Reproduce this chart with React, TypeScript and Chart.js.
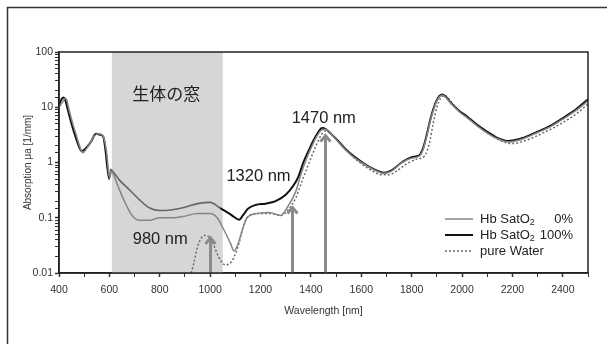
import React, { useEffect, useRef } from 'react';
import { Chart, registerables } from 'chart.js';
Chart.register(...registerables);

// ---------- data ----------
const hb100Wl = [400, 410, 418, 425, 435, 445, 460, 475, 490, 500, 515, 530, 542, 550, 560, 570, 577, 585, 592, 600, 605, 615, 640, 680, 720, 760, 800, 850, 900, 950, 1000, 1040, 1075, 1100, 1115, 1130, 1150, 1180, 1220, 1260, 1300, 1330, 1350, 1370, 1390, 1410, 1430, 1445, 1460, 1480, 1510, 1540, 1580, 1620, 1660, 1690, 1720, 1760, 1800, 1830, 1845, 1860, 1872, 1885, 1898, 1910, 1922, 1935, 1960, 1990, 2020, 2060, 2100, 2140, 2185, 2220, 2260, 2300, 2350, 2410, 2450, 2500];
const hb100Val = [11, 14, 15, 13.5, 9, 6, 3.5, 2.2, 1.6, 1.7, 2.0, 2.5, 3.2, 3.3, 3.2, 3.1, 2.8, 1.6, 0.8, 0.5, 0.75, 0.68, 0.48, 0.32, 0.21, 0.15, 0.135, 0.14, 0.155, 0.18, 0.19, 0.15, 0.12, 0.1, 0.092, 0.11, 0.145, 0.17, 0.18, 0.2, 0.26, 0.38, 0.55, 1.0, 1.6, 2.5, 3.6, 4.2, 4.0, 3.3, 2.4, 1.7, 1.2, 0.9, 0.72, 0.65, 0.72, 1.0, 1.25, 1.35, 1.8, 3.2, 5.5, 9, 13, 16, 17, 15.5, 11.5, 8.5, 6.8, 4.8, 3.6, 2.8, 2.45, 2.6, 3.0, 3.6, 4.6, 6.8, 9, 14];

const hb0Wl = [400, 412, 425, 432, 440, 455, 470, 485, 495, 510, 525, 540, 555, 570, 580, 590, 598, 603, 608, 620, 640, 667, 690, 720, 760, 800, 850, 900, 950, 1000, 1028, 1055, 1080, 1095, 1110, 1130, 1147, 1190, 1235, 1280, 1305, 1340, 1360, 1380, 1400, 1420, 1440, 1455, 1470, 1500, 1540, 1580, 1620, 1660, 1690, 1720, 1760, 1800, 1830, 1845, 1860, 1872, 1885, 1898, 1910, 1922, 1935, 1960, 1990, 2020, 2060, 2100, 2140, 2185, 2220, 2260, 2300, 2350, 2410, 2450, 2500];
const hb0Val = [10, 12, 14.5, 13, 9, 5, 3, 1.8, 1.5, 1.8, 2.3, 3.0, 3.3, 3.2, 2.6, 1.4, 0.6, 0.55, 0.7, 0.55, 0.32, 0.17, 0.11, 0.09, 0.09, 0.1, 0.1, 0.107, 0.12, 0.12, 0.1, 0.06, 0.035, 0.025, 0.033, 0.065, 0.1, 0.12, 0.125, 0.11, 0.15, 0.3, 0.6, 1.1, 1.8, 2.8, 3.8, 4.0, 3.7, 2.6, 1.65, 1.15, 0.88, 0.7, 0.64, 0.7, 0.98, 1.2, 1.3, 1.7, 3.0, 5.2, 8.5, 12.5, 15.5, 16.5, 15.2, 11.2, 8.2, 6.5, 4.6, 3.4, 2.7, 2.35, 2.5, 2.9, 3.5, 4.4, 6.5, 8.6, 13];

const waterWl = [925, 935, 950, 965, 980, 995, 1010, 1035, 1060, 1085, 1100, 1115, 1130, 1145, 1170, 1200, 1240, 1280, 1310, 1340, 1360, 1380, 1400, 1420, 1440, 1455, 1470, 1490, 1520, 1560, 1600, 1640, 1680, 1710, 1740, 1780, 1820, 1850, 1870, 1885, 1900, 1915, 1930, 1945, 1970, 2000, 2040, 2080, 2120, 2160, 2200, 2240, 2280, 2320, 2370, 2420, 2460, 2500];
const waterVal = [0.01, 0.015, 0.03, 0.043, 0.048, 0.045, 0.035, 0.019, 0.014, 0.016, 0.022, 0.035, 0.065, 0.1, 0.115, 0.12, 0.12, 0.11, 0.14, 0.23, 0.4, 0.7, 1.2, 2.0, 3.1, 3.7, 3.6, 3.0, 2.1, 1.35, 0.95, 0.72, 0.6, 0.6, 0.7, 0.95, 1.15, 1.3, 2.2, 5, 10, 14.5, 16.5, 14.5, 10.5, 7.8, 5.6, 4.0, 3.0, 2.4, 2.2, 2.4, 2.8, 3.4, 4.4, 6, 8, 11.5];

const seriesLabels = ['Hb SatO|2|0%', 'Hb SatO|2|100%', 'pure Water'];
const xTickLabels = [400, 600, 800, 1000, 1200, 1400, 1600, 1800, 2000, 2200, 2400];
const yTickLabels = ['0.01', '0.1', '1', '10', '100'];

// annotations (data coordinates)
const windowRange = [610, 1050];
const windowLabel = { text: '生体の窓', nm: 826, val: 18 };
const peakLabels = [
  { text: '980 nm', nm: 802, val: 0.041 },
  { text: '1320 nm', nm: 1192, val: 0.55 },
  { text: '1470 nm', nm: 1451, val: 6.4 },
];
const arrowNm = [1000, 1325, 1455];
const arrowTop = [0.045, 0.16, 3.2];

const FONT = '"Liberation Sans", Arial, Helvetica, sans-serif';

const pts = (wl: number[], v: number[]) => wl.map((x, i) => ({ x, y: v[i] }));

const annotPlugin = {
  id: 'annot',
  beforeDatasetsDraw(chart: any) {
    const { ctx, chartArea: a, scales } = chart;
    const x = scales.x;
    ctx.save();
    ctx.fillStyle = '#d6d6d6';
    const x0 = x.getPixelForValue(windowRange[0]);
    const x1 = x.getPixelForValue(windowRange[1]);
    ctx.fillRect(x0, a.top, x1 - x0, a.bottom - a.top);
    ctx.restore();
  },
  afterDatasetsDraw(chart: any) {
    const { ctx, chartArea: a, scales } = chart;
    const x = scales.x, y = scales.y;
    ctx.save();
    // arrows
    ctx.strokeStyle = '#8a8a8a';
    ctx.lineWidth = 3;
    ctx.lineCap = 'butt';
    ctx.lineJoin = 'miter';
    arrowNm.forEach((nm, i) => {
      const px = Math.round(x.getPixelForValue(nm)) + 0.5;
      const top = y.getPixelForValue(arrowTop[i]);
      ctx.beginPath();
      ctx.moveTo(px, a.bottom);
      ctx.lineTo(px, top + 2);
      ctx.stroke();
      ctx.beginPath();
      ctx.moveTo(px - 5, top + 7);
      ctx.lineTo(px, top + 1);
      ctx.lineTo(px + 5, top + 7);
      ctx.stroke();
    });
    // labels
    ctx.fillStyle = '#222';
    ctx.textAlign = 'center';
    ctx.textBaseline = 'middle';
    ctx.font = `17px "Noto Sans CJK JP", sans-serif`;
    ctx.fillText(windowLabel.text, x.getPixelForValue(windowLabel.nm), y.getPixelForValue(windowLabel.val));
    ctx.font = `16.5px ${FONT}`;
    peakLabels.forEach((l) => {
      ctx.fillText(l.text, x.getPixelForValue(l.nm), y.getPixelForValue(l.val));
    });
    // frame
    ctx.strokeStyle = '#222';
    ctx.lineWidth = 1.5;
    ctx.strokeRect(a.left, a.top, a.right - a.left, a.bottom - a.top);
    // legend
    const ds = chart.data.datasets;
    const lx0 = a.right - 143, lx1 = a.right - 115, tx = a.right - 108, rx = a.right - 15;
    const rows = [a.bottom - 54, a.bottom - 38, a.bottom - 22];
    ctx.textAlign = 'left';
    ds.forEach((d: any, i: number) => {
      const ry = rows[i];
      ctx.strokeStyle = d.borderColor;
      ctx.lineWidth = d.borderWidth;
      ctx.setLineDash(d.borderDash || []);
      ctx.beginPath();
      ctx.moveTo(lx0, ry);
      ctx.lineTo(lx1, ry);
      ctx.stroke();
      ctx.setLineDash([]);
      ctx.fillStyle = '#222';
      const parts = String(seriesLabels[i]).split('|');
      ctx.font = `13px ${FONT}`;
      ctx.textAlign = 'left';
      ctx.fillText(parts[0], tx, ry);
      if (parts.length > 1) {
        const w = ctx.measureText(parts[0]).width;
        ctx.font = `9px ${FONT}`;
        ctx.fillText(parts[1], tx + w, ry + 4);
        ctx.font = `13px ${FONT}`;
        ctx.textAlign = 'right';
        ctx.fillText(parts[2], rx, ry);
      }
    });
    ctx.restore();
  },
  afterDraw(chart: any) {
    const { ctx, width, height } = chart;
    ctx.save();
    ctx.strokeStyle = '#333';
    ctx.lineWidth = 1.5;
    ctx.beginPath();
    ctx.moveTo(7.5, height);
    ctx.lineTo(7.5, 7.5);
    ctx.lineTo(width, 7.5);
    ctx.stroke();
    ctx.restore();
  },
};

const isPow10 = (v: number) => {
  const l = Math.log10(v);
  return Math.abs(l - Math.round(l)) < 1e-9;
};

export default function App() {
  const ref = useRef<HTMLCanvasElement>(null);
  useEffect(() => {
    if (!ref.current) return;
    const chart = new Chart(ref.current, {
      type: 'line',
      data: {
        datasets: [
          {
            label: 'Hb SatO2 0%',
            data: pts(hb0Wl, hb0Val),
            borderColor: '#858585',
            borderWidth: 1.5,
            cubicInterpolationMode: 'monotone',
          },
          {
            label: 'Hb SatO2 100%',
            data: pts(hb100Wl, hb100Val),
            borderColor: '#111',
            borderWidth: 2,
            cubicInterpolationMode: 'monotone',
            segment: {
              borderColor: (c: any) => (c.p0.parsed.x >= windowRange[0] - 10 && c.p1.parsed.x <= windowRange[1] ? '#666' : undefined),
              borderWidth: (c: any) => (c.p0.parsed.x >= windowRange[0] - 10 && c.p1.parsed.x <= windowRange[1] ? 1.6 : undefined),
            },
          },
          {
            label: 'pure Water',
            data: pts(waterWl, waterVal),
            borderColor: '#6a6a6a',
            borderWidth: 1.5,
            borderDash: [2, 2],
            cubicInterpolationMode: 'monotone',
          },
        ] as any,
      },
      options: {
        animation: false,
        responsive: false,
        maintainAspectRatio: false,
        parsing: true,
        layout: { padding: { left: 0, right: 19, top: 52, bottom: 0 } },
        elements: { point: { radius: 0 } },
        plugins: { legend: { display: false }, tooltip: { enabled: false } },
        scales: {
          x: {
            type: 'linear',
            min: 400,
            max: 2500,
            afterFit: (s: any) => { s.height = 71; },
            border: { color: '#222', width: 1.5 },
            grid: {
              drawOnChartArea: false,
              tickLength: 4,
              tickColor: '#333',
              tickWidth: (c: any) => (c.tick && xTickLabels.includes(c.tick.value) ? 1.5 : 1),
            },
            ticks: {
              stepSize: 100,
              autoSkip: false,
              maxRotation: 0,
              padding: 7,
              color: '#333',
              font: { family: FONT, size: 10.5 },
              callback: (v: any) => (xTickLabels.includes(Number(v)) ? String(v) : ''),
            },
            title: {
              display: true,
              text: 'Wavelength [nm]',
              color: '#333',
              font: { family: FONT, size: 10.5 },
              padding: { top: 0, bottom: 27 },
            },
          },
          y: {
            type: 'logarithmic',
            min: 0.01,
            max: 100,
            afterFit: (s: any) => { s.width = 59; },
            border: { color: '#222', width: 1.5 },
            grid: {
              drawOnChartArea: false,
              tickLength: 4,
              tickColor: '#333',
              tickWidth: (c: any) => (c.tick && isPow10(c.tick.value) ? 1.5 : 1),
            },
            ticks: {
              autoSkip: false,
              padding: 2,
              color: '#333',
              font: { family: FONT, size: 10.5 },
              callback: (v: any) => {
                const n = Number(v);
                if (!isPow10(n)) return '';
                return yTickLabels[Math.round(Math.log10(n)) + 2] ?? '';
              },
            },
            title: {
              display: true,
              text: 'Absorption μa [1/mm]',
              color: '#333',
              font: { family: FONT, size: 10 },
              padding: { top: 22, bottom: 0 },
            },
          },
        },
      } as any,
      plugins: [annotPlugin],
    });
    return () => chart.destroy();
  }, []);
  return (
    <div style={{ position: 'absolute', left: 0, top: 0, width: 607, height: 344, background: '#fff' }}>
      <canvas ref={ref} width={607} height={344} style={{ width: 607, height: 344, display: 'block' }} />
    </div>
  );
}
